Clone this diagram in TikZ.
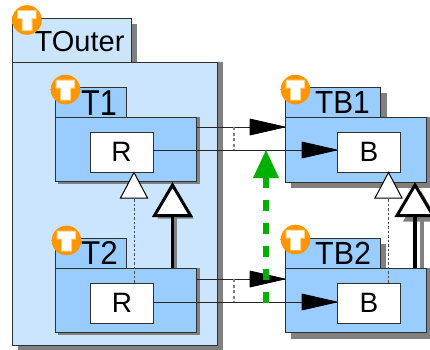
\documentclass[tikz,border=0pt]{standalone}
\usepackage{graphicx}
\usepackage{fontspec}
\setmainfont{Liberation Sans}
\definecolor{outerfill}{HTML}{CCE5FF}
\definecolor{innerfill}{HTML}{99CCFF}
\definecolor{shadowc}{HTML}{808080}
\definecolor{edgec}{HTML}{303030}
\definecolor{greenc}{HTML}{00B000}
\definecolor{ballmid}{HTML}{FF9500}
\definecolor{balltop}{HTML}{FFB820}
\definecolor{ballrim}{HTML}{EE9010}
\definecolor{ballglow}{HTML}{FFCF70}
\pgfdeclareradialshading{orangeball}{\pgfpoint{0bp}{-6bp}}{color(0bp)=(ballmid); color(32bp)=(ballmid); color(50bp)=(balltop); color(57bp)=(ballrim); color(60bp)=(ballrim)}
\tikzset{
  x=1pt,y=-1pt,
  boxpart/.style={draw=edgec,line width=0.9pt},
  whitebox/.style={boxpart,fill=white,minimum width=63pt,minimum height=40pt,inner sep=0pt,font=\fontsize{28}{28}\selectfont},
  tablabel/.style={inner sep=0pt,anchor=base west},
  conn/.style={line width=0.9pt,draw=black!85},
  linkdash/.style={line width=1.2pt,draw=black!50,dash pattern=on 3pt off 2.5pt},
  inhdash/.style={line width=1pt,draw=black!70,dash pattern=on 2.5pt off 2pt},
  thickstem/.style={line width=3.5pt,draw=black},
  whitetri/.style={draw=black,fill=white,line width=1pt,line join=miter},
  boldtri/.style={draw=black,fill=white,line width=3pt,line join=miter},
  blacktri/.style={fill=black,draw=black,line width=0.8pt,line join=round},
  greentri/.style={fill=greenc,draw=none},
  greendash/.style={draw=greenc,line width=6pt,dash pattern=on 11.5pt off 11.5pt},
}
% shadow offset, x1, tab right, body right, tab top, tab bottom, body bottom, fill
\newcommand{\pkg}[8]{%
  \fill[shadowc] (#2+#1,#6) rectangle (#4+#1,#7+#1);
  \draw[boxpart,fill=#8] (#2,#6) rectangle (#3,#5);
  \draw[boxpart,fill=#8] (#2,#6) rectangle (#4,#7);
}
\newcommand{\tabshadow}[4]{\fill[shadowc] (#1+6,#3+6) rectangle (#2+6,#4);}
\newcommand{\tball}[3]{%
  \shade[shading=orangeball] (#1,#2) circle (14.8);
  \node[inner sep=0pt,minimum size=0pt] (#3) at (#1,#2) {};
  \fill[ballglow] (#1-10,#2-10) rectangle (#1+9.5,#2-1) (#1-5.5,#2-10) rectangle (#1+5.5,#2+11);
  \fill[white] (#1-9,#2-9) rectangle (#1+8.5,#2-2) (#1-4.5,#2-9) rectangle (#1+4.5,#2+10);
}
\begin{document}
\begin{tikzpicture}
\useasboundingbox (0,0) rectangle (430,349);
\begin{scope}
\clip (0,0) rectangle (430,349);
\fill[white] (0,0) rectangle (430,349);
% TOuter
\tabshadow{12}{131}{18}{62}
\pkg{6}{12}{131}{217}{18}{62}{345}{outerfill}
\pkg{3}{55}{126}{196.5}{87}{117}{181}{innerfill}
\pkg{3}{55}{126}{196.5}{238}{268}{332}{innerfill}
\tabshadow{285}{380.5}{87}{117}
\tabshadow{285}{380}{238}{268}
\pkg{6}{285}{380.5}{426.5}{87}{117}{182}{innerfill}
\pkg{6}{285}{380}{426.5}{238}{268}{332.5}{innerfill}
\coordinate (t1r) at (196.5,127);
\coordinate (t2r) at (196.5,279);
\coordinate (tb1l) at (285,127);
\coordinate (tb2l) at (285,279);
\node[whitebox] (r1) at (121.5,152) {R};
\node[whitebox] (r2) at (122,303) {R};
\node[whitebox] (b1) at (369,152) {B};
\node[whitebox] (b2) at (369,303) {B};
\node[tablabel,font=\fontsize{29}{29}\selectfont] (outerlabel) at (34.5,51) {TOuter};
\node[tablabel,font=\fontsize{36}{36}\selectfont] (t1label) at (81,115) {\scalebox{.85}[1]{T1}};
\node[tablabel,font=\fontsize{33}{33}\selectfont] (t2label) at (81,264) {\scalebox{.95}[1]{T2}};
\node[tablabel,font=\fontsize{32}{32}\selectfont] (tb1label) at (315,113) {\scalebox{.93}[1]{TB1}};
\node[tablabel,font=\fontsize{32}{32}\selectfont] (tb2label) at (315,264) {\scalebox{.95}[1]{TB2}};
% inheritance shadows and lines
\fill[shadowc] (174,216) rectangle (177,268);
\fill[shadowc] (172.5+3,185+3) -- (154.5+3,215.5+3) -- (190.5+3,215.5+3) -- cycle;
\fill[shadowc] (420,216) rectangle (423.5,268);
\fill[shadowc] (415+6,185+6) -- (397+6,215.5+6) -- (433+6,215.5+6) -- cycle;
% association connectors
\draw[conn] (t1r) -- (tb1l);
\draw[conn] (t2r) -- (tb2l);
\draw[conn] (r1.east |- 0,150) -- (b1.west |- 0,150);
\draw[conn] (r2.east |- 0,302) -- (b2.west |- 0,302);
\draw[linkdash] (234,127) -- (234,150);
\draw[linkdash] (234,279) -- (234,302);
\draw[blacktri] (tb1l) -- (250,119) -- (250,135) -- cycle;
\draw[blacktri] (tb2l) -- (250,271) -- (250,287) -- cycle;
\draw[blacktri] (b1.west |- 0,150) -- (302,142) -- (302,158) -- cycle;
\draw[blacktri] (b2.west |- 0,302) -- (302,294) -- (302,310) -- cycle;
% inheritance left
\draw[inhdash] (r2.north -| 134,0) -- (134,198);
\draw[whitetri] (134,172.5) -- (120.5,198) -- (147.5,198) -- cycle;
\draw[thickstem] (172.5,268) -- (172.5,216);
\draw[boldtri] (172.5,185) -- (154.5,215.5) -- (190.5,215.5) -- cycle;
% inheritance right
\draw[inhdash] (b2.north -| 388,0) -- (388,198);
\draw[whitetri] (388.5,172.5) -- (375,198) -- (402,198) -- cycle;
\draw[thickstem] (415,268) -- (415,216);
\draw[boldtri] (415,185) -- (397,215.5) -- (433,215.5) -- cycle;
% green
\draw[greendash] (266,303) -- (266,178);
\fill[greentri] (266,150) -- (253,178) -- (279,178) -- cycle;
% balls
\tball{27}{20}{balla}
\tball{65.5}{89.5}{ballb}
\tball{66.5}{240.5}{ballc}
\tball{295.5}{89.5}{balld}
\tball{295.5}{239.5}{balle}
\end{scope}
\end{tikzpicture}
\end{document}
